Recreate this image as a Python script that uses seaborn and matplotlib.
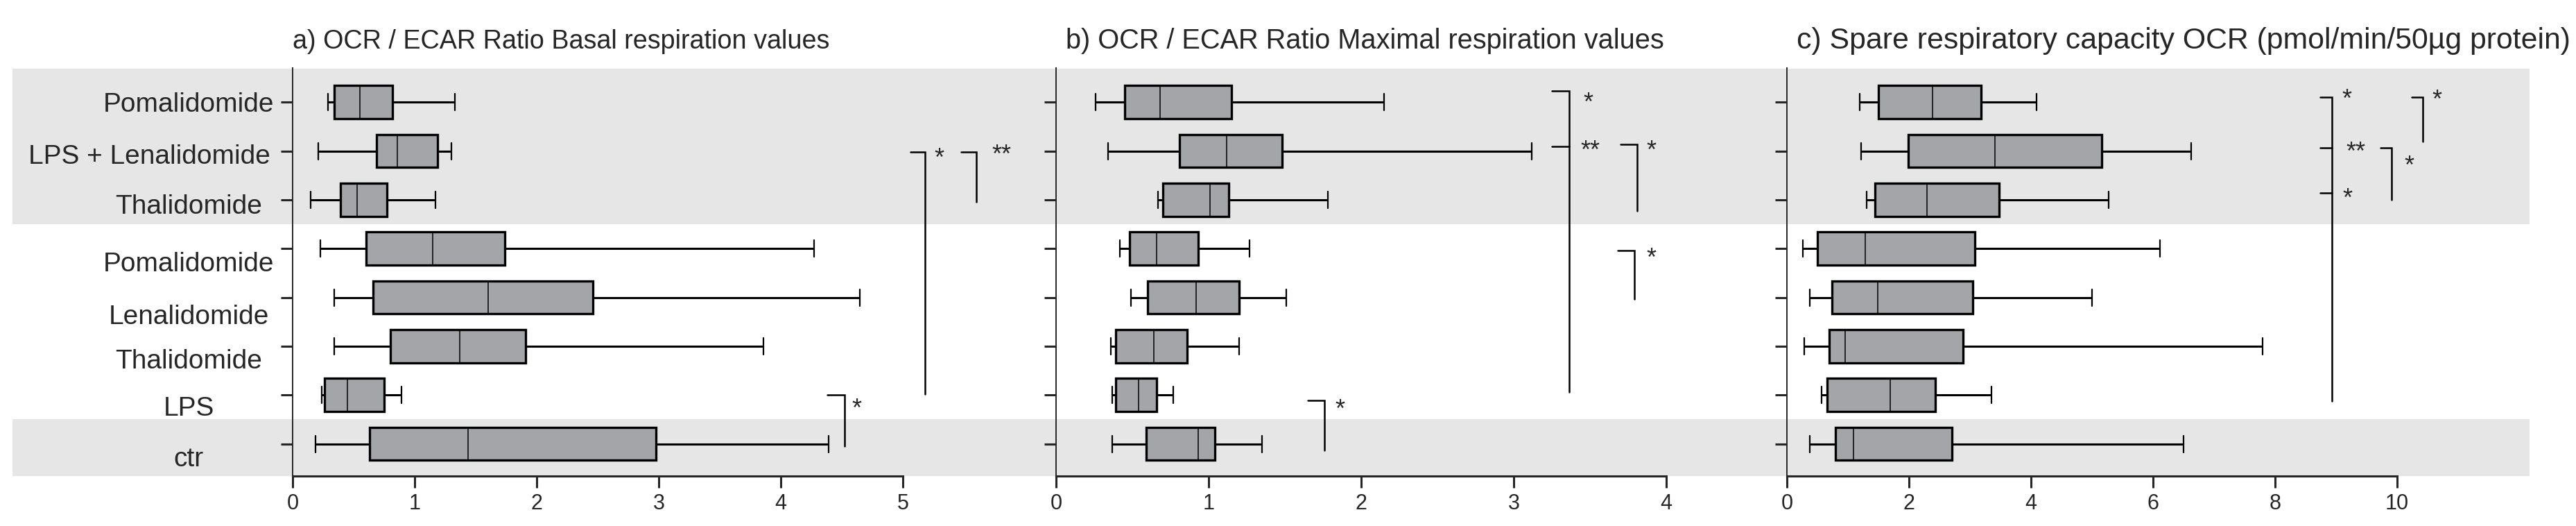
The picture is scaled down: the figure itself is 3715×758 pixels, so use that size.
import numpy as np
import pandas as pd
import matplotlib
matplotlib.use('Agg')
import matplotlib.pyplot as plt
import seaborn as sns
from matplotlib.patches import Rectangle
from matplotlib.transforms import ScaledTranslation, blended_transform_factory

# groups top to bottom (keys must be unique, labels repeat)
groups = ['LPS + Pomalidomide', 'LPS + Lenalidomide', 'LPS + Thalidomide',
          'Pomalidomide', 'Lenalidomide', 'Thalidomide', 'LPS', 'ctr']
group_labels = ['Pomalidomide', 'LPS + Lenalidomide', 'Thalidomide',
                'Pomalidomide', 'Lenalidomide', 'Thalidomide', 'LPS', 'ctr']

# five values per group: min, q1, median, q3, max
basal = [[0.29, 0.34, 0.55, 0.82, 1.33],
         [0.21, 0.69, 0.86, 1.19, 1.30],
         [0.15, 0.39, 0.53, 0.77, 1.17],
         [0.23, 0.60, 1.15, 1.74, 4.27],
         [0.34, 0.66, 1.60, 2.46, 4.65],
         [0.34, 0.80, 1.37, 1.91, 3.86],
         [0.24, 0.26, 0.45, 0.75, 0.89],
         [0.19, 0.63, 1.44, 2.98, 4.39]]
maximal = [[0.26, 0.45, 0.68, 1.15, 2.15],
           [0.34, 0.81, 1.12, 1.48, 3.12],
           [0.67, 0.70, 1.01, 1.13, 1.78],
           [0.42, 0.48, 0.66, 0.93, 1.27],
           [0.49, 0.60, 0.92, 1.20, 1.51],
           [0.36, 0.39, 0.64, 0.86, 1.20],
           [0.37, 0.39, 0.54, 0.66, 0.77],
           [0.37, 0.59, 0.93, 1.04, 1.35]]
spare = [[1.19, 1.50, 2.39, 3.18, 4.09],
         [1.22, 1.99, 3.41, 5.16, 6.63],
         [1.31, 1.44, 2.30, 3.48, 5.27],
         [0.26, 0.50, 1.28, 3.08, 6.11],
         [0.38, 0.74, 1.49, 3.05, 5.00],
         [0.28, 0.69, 0.96, 2.89, 7.80],
         [0.57, 0.66, 1.69, 2.43, 3.35],
         [0.38, 0.79, 1.09, 2.71, 6.50]]

titles = ['a) OCR / ECAR Ratio Basal respiration values',
          'b) OCR / ECAR Ratio Maximal respiration values',
          'c) Spare respiratory capacity OCR (pmol/min/50\u00b5g protein)']
x_max = [5, 4, 10]
x_ticks = [[0, 1, 2, 3, 4, 5], [0, 1, 2, 3, 4], [0, 2, 4, 6, 8, 10]]

# significance brackets: (x0, x1, y0, y1, stars, text x, text y)
brackets = [
    [(4.38, 4.52, 6.0, 7.05, '*', 4.62, 6.2),
     (5.06, 5.18, 1.02, 5.98, '*', 5.30, 1.07),
     (5.48, 5.60, 1.02, 2.05, '**', 5.81, 1.0)],
    [(3.25, 3.365, -0.23, 5.94, '*', 3.49, -0.07),
     (3.25, 3.365, 0.91, 0.91, '**', 3.50, 0.91),
     (3.70, 3.81, 0.87, 2.23, '*', 3.90, 0.91),
     (3.68, 3.79, 3.04, 4.03, '*', 3.90, 3.12),
     (1.65, 1.76, 6.11, 7.13, '*', 1.86, 6.21)],
    [(8.74, 8.93, -0.10, 6.12, '*', 9.18, -0.14),
     (8.74, 8.93, 0.94, 0.94, '**', 9.32, 0.94),
     (8.74, 8.93, 1.86, 1.86, '*', 9.19, 1.89),
     (10.24, 10.42, -0.10, 0.80, '*', 10.65, -0.13),
     (9.73, 9.91, 0.94, 2.00, '*', 10.20, 1.22)],
]

sns.set_style('ticks')
plt.rcParams['font.family'] = ['Liberation Sans', 'DejaVu Sans']

W, H = 3715, 758
fig = plt.figure(figsize=(W / 100, H / 100), dpi=100)
lefts = [422, 1523, 2577]
title_sizes = [27.2, 28.6, 30.8]
box_gray = '#a4a5a8'
band_gray = '#e6e6e6'

axes = []
for i, vals in enumerate([basal, maximal, spare]):
    ax = fig.add_axes([lefts[i] / W, (H - 686) / H, 880 / W, (686 - 98) / H])
    ax.set_facecolor('none')
    df = pd.DataFrame({'group': np.repeat(groups, 5), 'value': np.ravel(vals)})
    sns.boxplot(data=df, x='value', y='group', order=groups, orient='h',
                whis=(0, 100), width=0.68, color=box_gray, saturation=1,
                linecolor='black', linewidth=2, fliersize=0, ax=ax,
                boxprops=dict(linewidth=2.4),
                medianprops=dict(linewidth=1.1),
                whiskerprops=dict(linewidth=2.2),
                capprops=dict(linewidth=1.6))
    ax.set_xlim(0, x_max[i])
    ax.set_ylim(7.66, -0.70)
    ax.set_xticks(x_ticks[i])
    ax.set_xlabel('')
    ax.set_ylabel('')
    sns.despine(ax=ax)
    ax.spines['left'].set_linewidth(1.4)
    ax.spines['bottom'].set_linewidth(2.2)
    ax.tick_params(axis='x', length=12, width=2.2, labelsize=22, pad=6)
    ax.tick_params(axis='y', length=12, width=2.2)
    ax.set_yticks(range(len(groups)))
    if i == 0:
        ax.set_yticklabels(group_labels, fontsize=28)
        ax.tick_params(axis='y', pad=90)
        shifts = [(-8, 0), (-65, -4), (-8, -6), (-8, -19), (-8, -24), (-8, -18), (-8, -16), (-8, -18)]
        for lab, (dx, dy) in zip(ax.get_yticklabels(), shifts):
            lab.set_ha('center')
            lab.set_transform(lab.get_transform() +
                              ScaledTranslation(dx / 100, dy / 100, fig.dpi_scale_trans))
    else:
        ax.set_yticklabels([])
    ax.set_title(titles[i], loc='left', fontsize=title_sizes[i], pad=20,
                 x=0 if i == 0 else 0.016)

    for x0, x1, y0, y1, stars, tx, ty in brackets[i]:
        ax.plot([x0, x1, x1], [y0, y0, y1], color='black', lw=1.8,
                clip_on=False, solid_joinstyle='miter')
        ax.text(tx, ty + 0.1, stars, ha='center', va='center', fontsize=26,
                clip_on=False)
    axes.append(ax)

# grey bands behind the LPS-treated rows and the control row
trans = blended_transform_factory(fig.transFigure, axes[0].transData)
for y0, y1 in [(-0.68, 2.5), (6.5, 7.66)]:
    fig.add_artist(Rectangle((18 / W, y0), (3648 - 18) / W, y1 - y0,
                             transform=trans, facecolor=band_gray,
                             edgecolor='none', zorder=-1))

fig.savefig('out.png', dpi=100)
